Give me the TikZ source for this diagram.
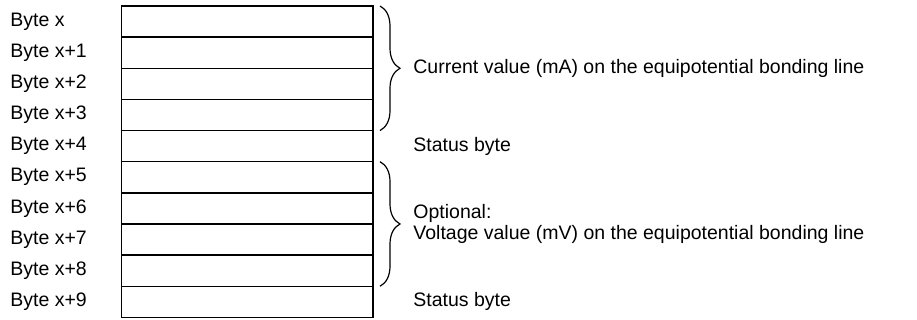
\documentclass[tikz,border=0pt]{standalone}
\usepackage{fontspec}
\setmainfont{Liberation Sans}
\usetikzlibrary{positioning,decorations.pathreplacing}
\tikzset{
  bytebox/.style={draw, rectangle, line width=0.7pt, minimum width=125.75pt, minimum height=15.57pt, inner sep=0pt, outer sep=0pt, anchor=north west},
  bytelabel/.style={inner sep=0pt, anchor=west},
  note/.style={inner sep=0pt, anchor=west, align=left},
  brace/.style={decorate, decoration={brace, amplitude=10pt}, line width=0.6pt}
}
\begin{document}
\begin{tikzpicture}[x=0.5pt,y=-0.5pt]
  \fontsize{9.75}{10.5}\selectfont
  \useasboundingbox (0,0) rectangle (917,320);
  % byte rows
  \node (b0) [bytebox] at (121.5,6) {};
  \foreach \i [remember=\i as \last (initially 0)] in {1,...,9}
    \node (b\i) [bytebox, below=0pt of b\last.south west, anchor=north west] {};
  % row labels
  \node (l0) [bytelabel] at (10,0 |- b0.west) {Byte x};
  \foreach \i in {1,...,9}
    \node (l\i) [bytelabel] at (10,0 |- b\i.west) {Byte x+\i};
  % braces
  \draw[brace] ([xshift=3.5pt]b0.north east) -- ([xshift=3.5pt]b3.south east);
  \draw[brace] ([xshift=3.5pt]b5.north east) -- ([xshift=3.5pt]b8.south east);
  % descriptions
  \node (cur) [note, right=20pt of b1.south east] {Current value (mA) on the equipotential bonding line};
  \node (st1) [note, right=20pt of b4.east] {Status byte};
  \node (opt) [note, right=20pt of b6.south east] {Optional:\\Voltage value (mV) on the equipotential bonding line};
  \node (st2) [note, right=20pt of b9.east] {Status byte};
\end{tikzpicture}
\end{document}
